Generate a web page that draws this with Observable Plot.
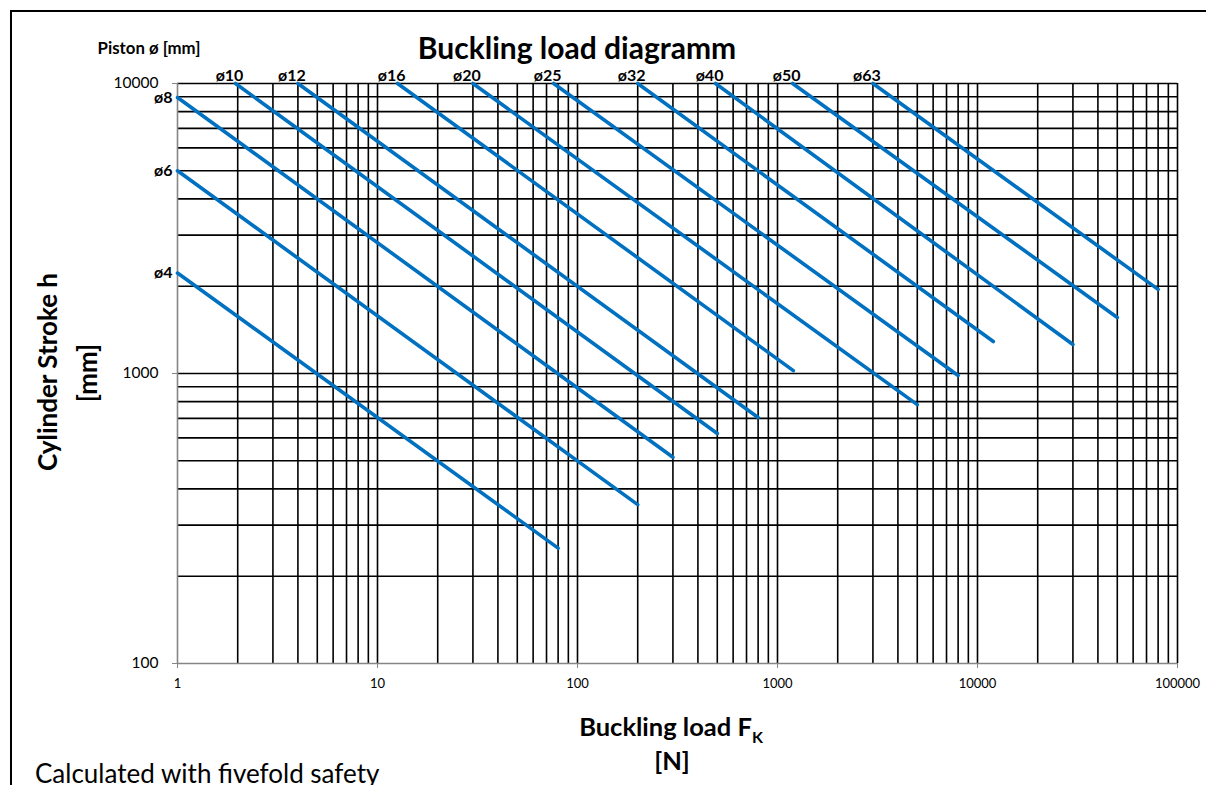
<!DOCTYPE html>
<html>
<head>
<meta charset="utf-8">
<script src="https://cdn.jsdelivr.net/npm/d3@7"></script>
<script src="https://cdn.jsdelivr.net/npm/@observablehq/plot@0.6"></script>
<style>
  html, body { margin: 0; padding: 0; background: #fff; }
  #wrap { position: relative; width: 1206px; height: 785px; overflow: hidden; font-family: Lato, "Open Sans", sans-serif; color: #000; }
  #wrap svg { position: absolute; left: 0; top: 0; }
  .t { position: absolute; white-space: nowrap; line-height: 1; transform: translate(-50%, -50%); }
  #border { position: absolute; left: 10px; top: 10px; width: 1300px; height: 900px; border-left: 2px solid #000; border-top: 2px solid #000; box-sizing: border-box; }
</style>
</head>
<body>
<div id="wrap">
  <div id="border"></div>
</div>
<script>
// ---- data ----
const diameters   = ["ø4", "ø6", "ø8", "ø10", "ø12", "ø16", "ø20", "ø25", "ø32", "ø40", "ø50", "ø63"];
const startLoad   = [1, 1, 1, 1.95, 4, 12.6, 30, 76, 200, 490, 1190, 3000];        // N
const startStroke = [2220, 5000, 8950, 10000, 10000, 10000, 10000, 10000, 10000, 10000, 10000, 10000]; // mm
const endLoad     = [80, 200, 300, 500, 800, 1200, 5000, 8000, 12000, 30000, 50000, 80000]; // N
const endStroke   = [250, 353, 514, 621, 705, 1023, 781, 984, 1289, 1259, 1560, 1950];      // mm
const xTicks = [1, 10, 100, 1000, 10000, 100000];
const yTicks = [100, 1000, 10000];

// ---- derived tables ----
const lines = diameters.flatMap((d, i) => [
  {d, F: startLoad[i], h: startStroke[i]},
  {d, F: endLoad[i], h: endStroke[i]}
]);
const leftLabels = diameters.map((d, i) => ({d, F: startLoad[i], h: startStroke[i]})).filter(r => r.h < 10000);
const topLabels  = diameters.map((d, i) => ({d, F: startLoad[i], h: startStroke[i]})).filter(r => r.h >= 10000);

const minors = (lo, hi) => d3.range(Math.log10(lo), Math.log10(hi)).flatMap(k => d3.range(1, 10).map(m => m * 10 ** k)).concat([hi]);
const xGrid = minors(1, 100000).filter(v => v > 1);
const yGrid = minors(100, 10000).filter(v => v > 100);

const axisGray = "#868686";

const chart = Plot.plot({
  width: 1206,
  height: 785,
  marginLeft: 177,
  marginRight: 29,
  marginTop: 83,
  marginBottom: 122,
  style: {fontFamily: "Lato, 'Open Sans', sans-serif", color: "#000", background: "transparent", overflow: "visible"},
  x: {type: "log", domain: [1, 100000]},
  y: {type: "log", domain: [100, 10000]},
  marks: [
    Plot.ruleX(xGrid, {stroke: "#000", strokeWidth: 1.6}),
    Plot.ruleY(yGrid, {stroke: "#000", strokeWidth: 1.6}),
    Plot.ruleX([1], {stroke: axisGray, strokeWidth: 1.6}),
    Plot.ruleY([100], {stroke: axisGray, strokeWidth: 1.6}),
    Plot.axisX(xTicks, {tickSize: 5, tickPadding: 10, fontSize: 13, tickFormat: d => String(d), label: null}),
    Plot.axisY(yTicks, {tickSize: 5, tickPadding: 14, fontSize: 15.5, tickFormat: d => String(d), label: null}),
    Plot.line(lines, {x: "F", y: "h", z: "d", stroke: "#0070C0", strokeWidth: 3.6, strokeLinecap: "round"}),
    Plot.text(leftLabels, {x: "F", y: "h", text: "d", textAnchor: "end", dx: -5, fontWeight: "bold", fontSize: 16, fill: "#000"}),
    Plot.text(topLabels, {x: "F", y: "h", text: "d", textAnchor: "middle", dx: -6, dy: -8, fontWeight: "bold", fontSize: 16, fill: "#000"})
  ]
});

chart.querySelectorAll('g[aria-label$="-axis tick"]').forEach(g => g.setAttribute("stroke", axisGray));

const wrap = document.getElementById("wrap");
wrap.appendChild(chart);

function addText(html, x, y, style, rotate) {
  const el = document.createElement("div");
  el.className = "t";
  el.innerHTML = html;
  el.style.left = x + "px";
  el.style.top = y + "px";
  Object.assign(el.style, style);
  if (rotate) el.style.transform = "translate(-50%, -50%) rotate(-90deg)";
  wrap.appendChild(el);
}

addText("Buckling load diagramm", 577, 47, {fontWeight: "bold", fontSize: "30px"});
addText("Piston ø [mm]", 149, 48, {fontWeight: "bold", fontSize: "16.8px"});
addText("Buckling load F<span style=\"font-size:16px;position:relative;top:7px;\">K</span>", 671, 727, {fontWeight: "bold", fontSize: "25.5px"});
addText("[N]", 672, 761, {fontWeight: "bold", fontSize: "25.5px"});
addText("Cylinder Stroke h", 47, 372, {fontWeight: "bold", fontSize: "26px"}, true);
addText("[mm]", 87, 373, {fontWeight: "bold", fontSize: "26px"}, true);
addText("Calculated with fivefold safety", 35, 773, {fontSize: "26px", transform: "translate(0, -50%)"});
</script>
</body>
</html>
